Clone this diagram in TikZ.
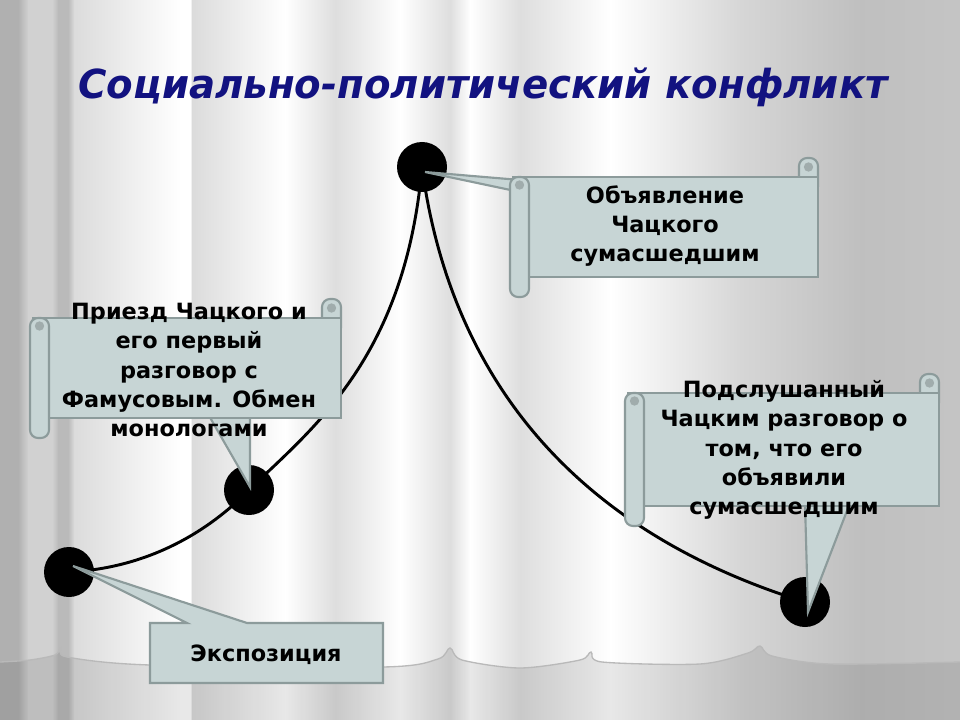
\documentclass[tikz,border=0pt]{standalone}
\usepackage{fontspec}
\setmainfont{DejaVu Sans}
\usetikzlibrary{calc}

% Rollo: esquina sup. izq. (#1,#2), esquina inf. der. (#3,#4), en px
\newcommand{\rollo}[4]{%
  \draw[borde,fill=caja,rounded corners=6pt] (#3-19,#2+10) -- (#3-19,#2-19) -- (#3,#2-19) -- (#3,#2+10);
  \draw[borde,fill=caja] (#1,#2) rectangle (#3,#4);
  \draw[borde,fill=caja,rounded corners=6pt] (#1-3,#2) rectangle (#1+16,#4+20);
  \fill[rizo] (#3-9.5,#2-10) circle (3.5pt);
  \fill[rizo] (#1+6.5,#2+8) circle (3.5pt);
}

\tikzset{
  borde/.style={draw=gris,line width=1.6pt},
  punto/.style={circle,fill=black,minimum size=37.5pt,inner sep=0pt},
  curva/.style={line width=2.2pt},
  texto/.style={align=center,font=\bfseries\fontsize{16.8}{22}\selectfont},
  titulo/.style={font=\bfseries\itshape\fontsize{30}{34}\selectfont}
}

\begin{document}
\begin{tikzpicture}[x=0.75pt,y=-0.75pt]
        %colores
        \definecolor{caja}{RGB}{199,213,213}
        \definecolor{gris}{RGB}{140,155,155}
        \definecolor{rizo}{RGB}{160,172,172}
        \definecolor{azul}{RGB}{18,18,128}

        \useasboundingbox (0,0) rectangle (960,720);

        % Fondo (cortina)
        \foreach \xa/\ca/\xb/\cb in {0/31/18/31,18/31/28/18,28/18/52/18,52/18/58/27,58/27/68/27,68/27/74/14,
            74/14/180/0,180/0/190/0,190/0/192/14,192/14/285/0,285/0/335/13,335/13/400/0,400/0/450/13,
            450/13/470/0,470/0/520/13,520/13/610/0,610/0/740/16,740/16/860/25,860/25/960/23}
        \shade[left color=black!\ca,right color=black!\cb] (\xa,0) rectangle (\xb+0.5,720);

        % Suelo
        \fill[black,opacity=.09] plot[smooth] coordinates {(0,662) (30,660) (55,655) (61,648) (67,657) (150,665)
            (383,667) (438,659) (450,648) (462,660) (520,668) (580,660) (591,652) (602,662) (700,664)
            (748,653) (760,646) (772,656) (830,664) (960,662)} -- (960,720) -- (0,720) -- cycle;
        \draw[gray!55,line width=1pt] plot[smooth] coordinates {(0,662) (30,660) (55,655) (61,648) (67,657) (150,665)
            (383,667) (438,659) (450,648) (462,660) (520,668) (580,660) (591,652) (602,662) (700,664)
            (748,653) (760,646) (772,656) (830,664) (960,662)};

        % Titulo
        \node[titulo,text=azul] (tit) at (483,87) {\resizebox{607pt}{\height}{Социально-политический конфликт}};

        % Puntos y curva
        \node[punto] (p1) at (69,572) {};
        \node[punto] (p2) at (249,490) {};
        \node[punto] (p3) at (422,167) {};
        \node[punto] (p4) at (805,602) {};
        \draw[curva] (p1.center) .. controls (150,568) and (210,530) .. (p2.center)
            .. controls (310,430) and (405,360) .. (p3.center)
            .. controls (445,340) and (540,520) .. (p4.center);

        % Flechas de los rollos
        \draw[borde,fill=caja] ($(p3.center)+(3,5)$) -- (520,180) -- (520,192) -- cycle;
        \draw[borde,fill=caja] (208,414) -- ($(p2.center)+(1,-3)$) -- (250,414) -- cycle;
        \draw[borde,fill=caja] (805,503) -- ($(p4.center)+(3,10)$) -- (850,503) -- cycle;

        % Rollos
        \rollo{513}{177}{818}{277}
        \rollo{33}{318}{341}{418}
        \rollo{628}{393}{939}{506}

        % Exposicion
        \draw[borde,fill=caja] (150,623) -- (187,623) -- ($(p1.center)+(4,-6)$) -- (247,623) -- (383,623)
            -- (383,683) -- (150,683) -- cycle;

        % Textos
        \node[texto] (t1) at (266,655) {Экспозиция};
        \node[texto] (t2) at (189,370) {Приезд Чацкого и\\его первый\\разговор с\\Фамусовым. Обмен\\монологами};
        \node[texto] (t3) at (665,226) {Объявление\\Чацкого\\сумасшедшим};
        \node[texto] (t4) at (784,450) {Подслушанный\\Чацким разговор о\\том, что его\\объявили\\сумасшедшим};
    \end{tikzpicture}
\end{document}
